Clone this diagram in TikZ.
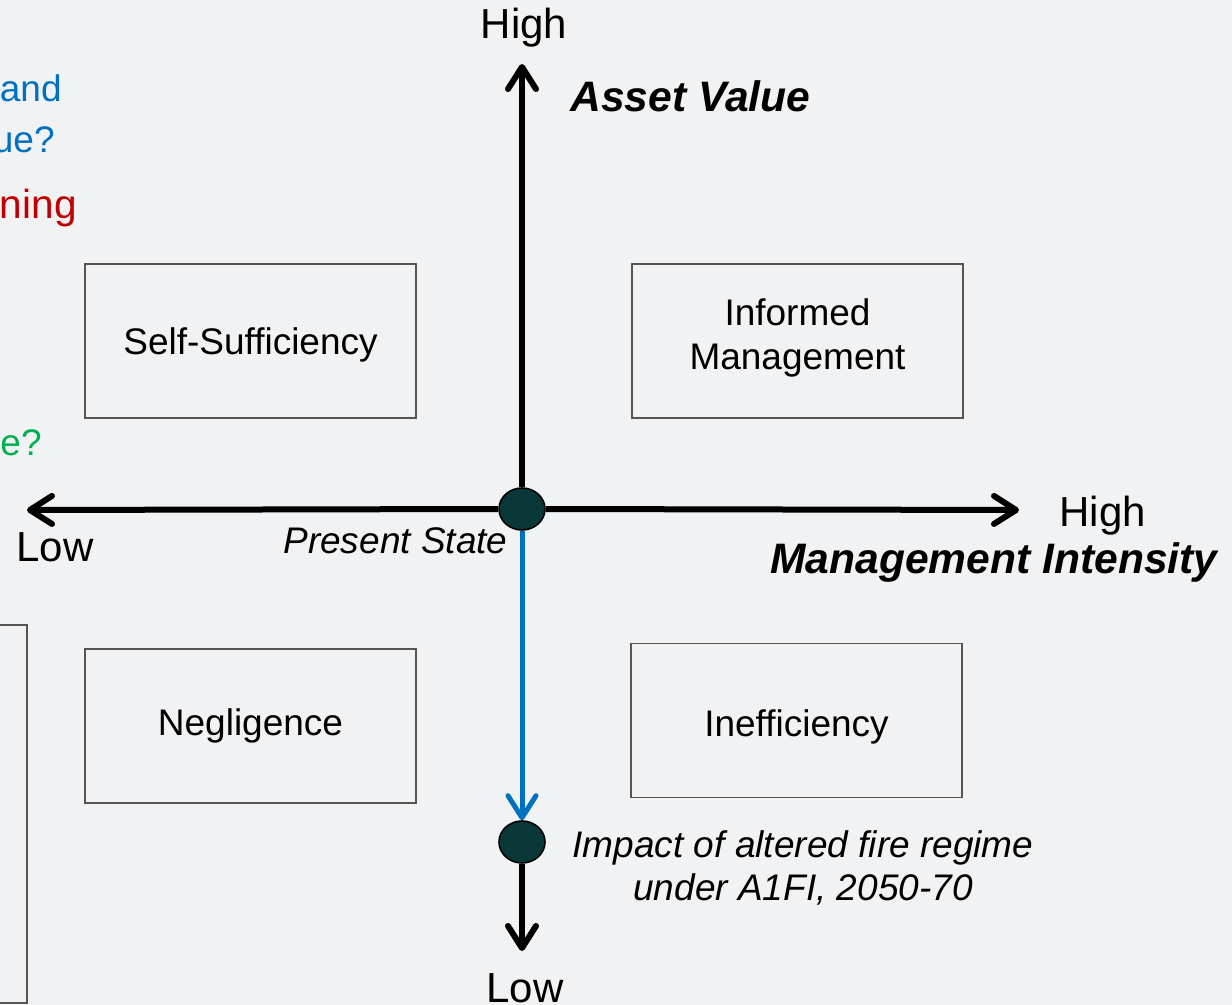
\documentclass[tikz,border=0pt]{standalone}
\usepackage{fontspec}
\setmainfont{Liberation Sans}
\usetikzlibrary{arrows.meta,shapes.geometric}
\definecolor{bgc}{RGB}{241,242,244}
\definecolor{dotc}{RGB}{10,55,55}
\definecolor{myblue}{RGB}{0,112,192}
\definecolor{myred}{RGB}{192,0,0}
\definecolor{mygreen}{RGB}{0,176,80}
\definecolor{boxc}{RGB}{85,85,85}
\newcommand{\shiftdown}[2]{\raisebox{-#1}[\height][\depth]{#2}}
\tikzset{
  axis/.style={line width=3pt,draw=black,-{Straight Barb[length=11pt,width=14pt,round]}},
  bluearrow/.style={line width=2.5pt,draw=myblue,-{Straight Barb[length=11pt,width=14pt,round]}},
  dot/.style={ellipse,draw=black,line width=0.8pt,fill=dotc,minimum width=23pt,minimum height=21pt,inner sep=0pt},
  quad/.style={rectangle,draw=boxc,line width=0.65pt,minimum width=165.5pt,minimum height=77pt,align=center,font=\fontsize{18.5}{22}\selectfont},
  big/.style={inner sep=0pt,font=\fontsize{21}{24}\selectfont},
  bigbi/.style={inner sep=0pt,font=\fontsize{21.3}{24}\selectfont\bfseries\itshape},
  txt/.style={inner sep=0pt,font=\fontsize{18.5}{21.5}\selectfont},
}
\begin{document}
\begin{tikzpicture}[x=0.5pt,y=-0.5pt]
\fill[bgc] (0,0) rectangle (1232,1005);
\useasboundingbox (0,0) rectangle (1232,1005);
\begin{scope}
\clip (0,0) rectangle (1232,1005);
\draw[boxc,line width=0.9pt] (-10,625) -- (27,625) -- (27,1003) -- (-10,1003);
\end{scope}
% cut-off texts on the left
\node[txt,anchor=east,text=myblue] (t1) at (62,88) {and};
\node[txt,anchor=east,text=myblue] (t2) at (55,140) {ue?};
\node[txt,anchor=east,text=myred,font=\fontsize{20.3}{23}\selectfont] (t3) at (77,208) {ning};
\node[txt,anchor=east,text=mygreen] (t4) at (42,443) {e?};
% quadrant boxes
\node[quad] (ss) at (250.5,341) {\shiftdown{2pt}{Self-Sufficiency}};
\node[quad] (im) at (797.5,341) {\shiftdown{-1.5pt}{Informed}\\\shiftdown{-1.5pt}{Management}};
\node[quad] (ng) at (250.5,726) {Negligence};
\node[quad] (ie) at (796.5,720.5) {\shiftdown{3pt}{Inefficiency}};
% axes
\node[dot] (ps) at (522,509) {};
\node[dot] (ia) at (522,842) {};
\coordinate (top) at (522,64);
\coordinate (bot) at (522,951);
\coordinate (lft) at (27,510);
\coordinate (rgt) at (1019,510);
\draw[axis] (ps.north) -- (top);
\draw[axis] (ps.west) -- (lft);
\draw[axis] (ps.east) -- (rgt);
\draw[bluearrow] (ps) -- (ia);
\draw[axis] (ia) -- (bot);
% labels
\node[big] (hiT) at (524,28) {High};
\node[bigbi,anchor=west] (av) at (570,96) {Asset Value};
\node[big,anchor=west] (hiR) at (1059,516) {High};
\node[bigbi,anchor=east] (mi) at (1218,562) {Management Intensity};
\node[big] (loL) at (55,547) {Low};
\node[big] (loB) at (525,988) {Low};
\node[txt,anchor=east,font=\fontsize{18.5}{21.5}\selectfont\itshape] (pst) at (508,541) {Present State};
\node[txt,align=center,font=\fontsize{18.5}{21.5}\selectfont\itshape] (imp) at (803,868) {Impact of altered fire regime\\under A1FI, 2050-70};
\end{tikzpicture}
\end{document}
